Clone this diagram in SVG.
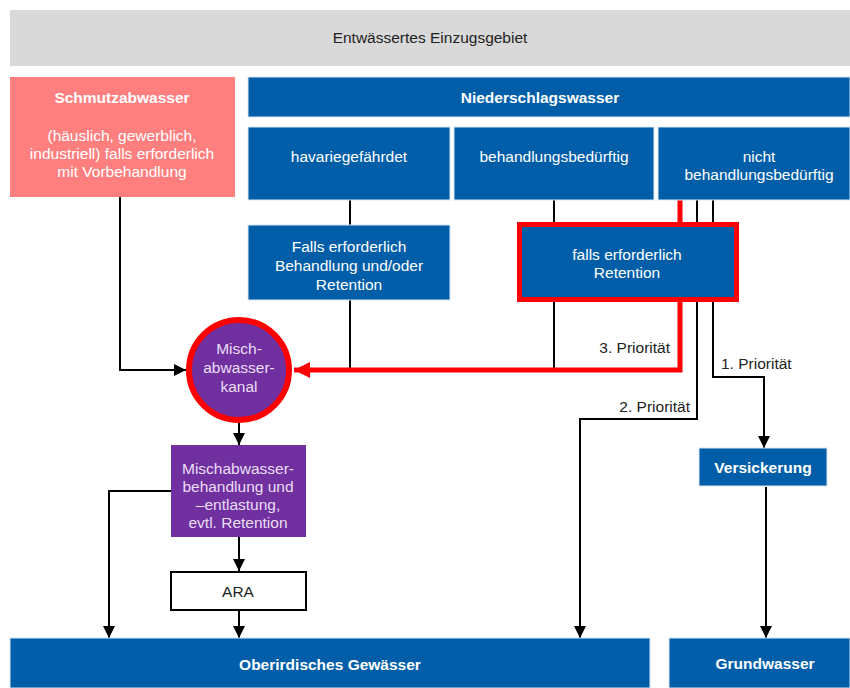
<svg xmlns="http://www.w3.org/2000/svg" width="850" height="688" viewBox="0 0 850 688">
<defs>
<style>
text{font-family:"Liberation Sans",Arial,sans-serif;font-size:15.5px;text-anchor:middle}
.w{fill:#ffffff}
.b{font-weight:bold}
.k{fill:#222222}
.blue{fill:#005ea8;stroke:#d8e6f3;stroke-width:1}
.ln{fill:none;stroke:#000;stroke-width:2}
.red{fill:none;stroke:#ff0000;stroke-width:5}
.lav{fill:#eadff5}
</style>
<marker id="ah" viewBox="0 0 12 12" refX="12" refY="6" markerWidth="12" markerHeight="12" markerUnits="userSpaceOnUse" orient="auto"><path d="M0,0 L12,6 L0,12 Z" fill="#000"/></marker>
<marker id="rah" viewBox="0 0 16 16" refX="16" refY="8" markerWidth="16" markerHeight="16" markerUnits="userSpaceOnUse" orient="auto"><path d="M0,0 L16,8 L0,16 Z" fill="#ff0000"/></marker>
</defs>
<rect width="850" height="688" fill="#ffffff"/>
<g id="connectors">
<path class="ln" d="M120,197 V370 H186" marker-end="url(#ah)"/>
<path class="ln" d="M350,200 V226"/>
<path class="ln" d="M350,300 V370"/>
<path class="ln" d="M554,200 V224"/>
<path class="ln" d="M554,300 V370"/>
<path class="ln" d="M697,200 V419 H580 V638" marker-end="url(#ah)"/>
<path class="ln" d="M713,200 V377 H764 V448" marker-end="url(#ah)"/>
<path class="ln" d="M766,487 V638" marker-end="url(#ah)"/>
<path class="ln" d="M239,423 V445" marker-end="url(#ah)"/>
<path class="ln" d="M239,537 V571" marker-end="url(#ah)"/>
<path class="ln" d="M239,610 V638" marker-end="url(#ah)"/>
<path class="ln" d="M171,491 H109 V638" marker-end="url(#ah)"/>
<path class="red" d="M680,200 V224"/>
<path class="red" d="M680,300 V370 H294" marker-end="url(#rah)"/>
<text x="670" y="353" class="k" style="text-anchor:end">3. Priorität</text>
<text x="690" y="412" class="k" style="text-anchor:end">2. Priorität</text>
<text x="721" y="369" class="k" style="text-anchor:start">1. Priorität</text>
</g>
<g id="einzugsgebiet">
<rect x="10" y="10" width="840" height="56" fill="#d9d9d9"/>
<text x="430" y="43" class="k">Entwässertes Einzugsgebiet</text>
</g>
<g id="schmutzabwasser">
<rect x="10" y="77" width="225" height="120" fill="#ff7f7f"/>
<text x="122" y="103" class="w b">Schmutzabwasser</text>
<text x="122" y="141" class="w">(häuslich, gewerblich,</text>
<text x="122" y="159" class="w">industriell) falls erforderlich</text>
<text x="122" y="177" class="w">mit Vorbehandlung</text>
</g>
<g id="niederschlagswasser">
<rect x="248" y="77" width="602" height="40" class="blue"/>
<text x="540" y="103" class="w b">Niederschlagswasser</text>
</g>
<g id="havariegefaehrdet">
<rect x="248" y="127" width="202" height="73" class="blue"/>
<text x="349" y="162" class="w">havariegefährdet</text>
</g>
<g id="behandlungsbeduerftig">
<rect x="454" y="127" width="200" height="73" class="blue"/>
<text x="554" y="162" class="w">behandlungsbedürftig</text>
</g>
<g id="nicht-behandlungsbeduerftig">
<rect x="658" y="127" width="192" height="73" class="blue"/>
<text x="759" y="162" class="w">nicht</text>
<text x="759" y="180" class="w">behandlungsbedürftig</text>
</g>
<g id="behandlung-retention">
<rect x="248" y="225" width="202" height="75" class="blue"/>
<text x="349" y="252" class="w">Falls erforderlich</text>
<text x="349" y="271" class="w">Behandlung und/oder</text>
<text x="349" y="290" class="w">Retention</text>
</g>
<g id="retention">
<rect x="519.5" y="224.5" width="217" height="75" fill="#005ea8" stroke="#ff0000" stroke-width="5"/>
<text x="627" y="260" class="w">falls erforderlich</text>
<text x="627" y="278" class="w">Retention</text>
</g>
<g id="mischabwasserkanal">
<circle cx="239" cy="370" r="50" fill="#7030a0" stroke="#ff0000" stroke-width="6"/>
<text x="239" y="354" class="lav">Misch-</text>
<text x="239" y="373" class="lav">abwasser-</text>
<text x="239" y="392" class="lav">kanal</text>
</g>
<g id="mischabwasserbehandlung">
<rect x="171" y="445" width="135" height="92" fill="#7030a0"/>
<text x="238" y="474" class="lav">Mischabwasser-</text>
<text x="238" y="492" class="lav">behandlung und</text>
<text x="238" y="510" class="lav">–entlastung,</text>
<text x="238" y="528" class="lav">evtl. Retention</text>
</g>
<g id="ara">
<rect x="171" y="572" width="135" height="38" fill="#ffffff" stroke="#000" stroke-width="2"/>
<text x="238" y="597" class="k">ARA</text>
</g>
<g id="versickerung">
<rect x="699" y="448" width="128" height="38" class="blue"/>
<text x="763" y="473" class="w b">Versickerung</text>
</g>
<g id="oberirdisches-gewaesser">
<rect x="10" y="638" width="640" height="50" class="blue"/>
<text x="330" y="670" class="w b">Oberirdisches Gewässer</text>
</g>
<g id="grundwasser">
<rect x="669" y="638" width="181" height="50" class="blue"/>
<text x="765" y="669" class="w b">Grundwasser</text>
</g>
</svg>
